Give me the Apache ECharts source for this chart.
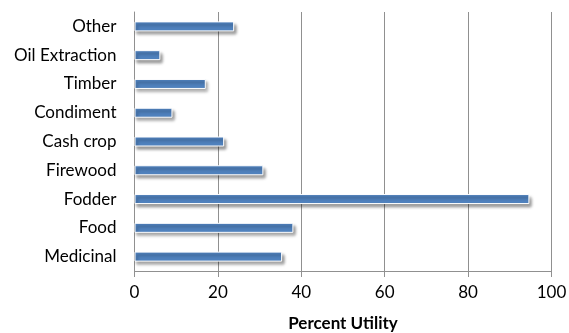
<!DOCTYPE html>
<html>
<head>
<meta charset="utf-8">
<script src="https://cdn.jsdelivr.net/npm/echarts@6/dist/echarts.min.js"></script>
<style>
  html, body { margin: 0; padding: 0; background: #ffffff; }
  #chart { width: 569px; height: 333px; }
</style>
</head>
<body>
<div id="chart"></div>
<script>
// Plant use categories, listed bottom to top on the category axis
const categories = ['Medicinal', 'Food', 'Fodder', 'Firewood', 'Cash crop', 'Condiment', 'Timber', 'Oil Extraction', 'Other'];
// Percent utility per category
const utility = [35.4, 38.1, 94.7, 30.9, 21.5, 9.1, 17.1, 6.2, 23.9];
// Value axis range and step
const axisMin = 0;
const axisMax = 100;
const axisStep = 20;

const fontFamily = 'Lato, "Open Sans", sans-serif';

const chart = echarts.init(document.getElementById('chart'), null, { renderer: 'canvas' });

chart.setOption({
  animation: false,
  backgroundColor: '#ffffff',
  grid: {
    left: 134.5, right: 17.5, top: 12, bottom: 62,
    containLabel: false,
    outerBoundsMode: 'none'
  },
  xAxis: {
    type: 'value',
    min: axisMin,
    max: axisMax,
    interval: axisStep,
    name: 'Percent Utility',
    nameLocation: 'middle',
    nameGap: 44,
    nameTextStyle: { fontFamily: fontFamily, fontSize: 17, fontWeight: 'bold', color: '#000000' },
    axisLine: { show: true, lineStyle: { color: '#909090', width: 1 } },
    axisTick: { show: true, length: 6, lineStyle: { color: '#909090' } },
    axisLabel: { fontFamily: fontFamily, fontSize: 17, color: '#000000', margin: 13 },
    splitLine: { show: true, lineStyle: { color: '#909090', width: 1 } }
  },
  yAxis: {
    type: 'category',
    data: categories,
    axisLine: { show: true, lineStyle: { color: '#909090', width: 1 } },
    axisTick: { show: false },
    axisLabel: { fontFamily: fontFamily, fontSize: 17, color: '#000000', margin: 18 },
    splitLine: { show: false }
  },
  series: [{
    type: 'bar',
    data: utility,
    barWidth: 10,
    itemStyle: {
      color: '#4f81bd',
      borderColor: '#ffffff',
      borderWidth: 1,
      shadowColor: 'rgba(0,0,0,0.4)',
      shadowBlur: 3,
      shadowOffsetX: 2,
      shadowOffsetY: 3
    }
  }]
});
</script>
</body>
</html>
